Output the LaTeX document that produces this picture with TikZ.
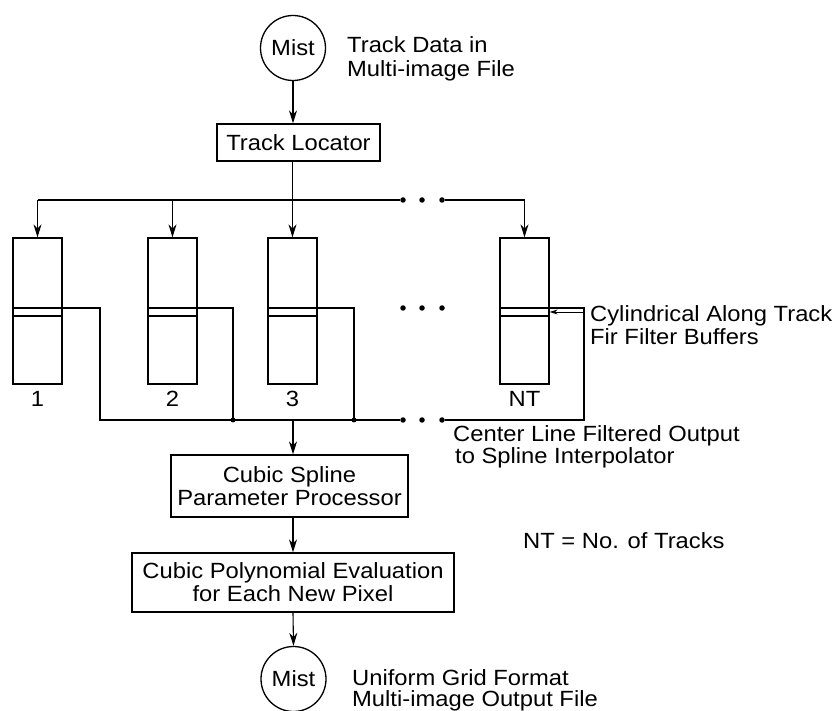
\documentclass[tikz,border=0pt]{standalone}
\usepackage{fontspec}
\setmainfont{Liberation Sans}[FakeStretch=1.08]
\usetikzlibrary{arrows.meta}
\begin{document}
\begin{tikzpicture}[x=1pt,y=-1pt,
  every node/.style={font=\fontsize{22}{23}\selectfont},
  box/.style={draw, line width=1.3pt, rectangle, inner sep=0pt, align=center},
  buf/.style={draw, line width=1.3pt, minimum width=49pt, minimum height=146pt, inner sep=0pt},
  mistc/.style={draw, circle, line width=1.3pt, minimum size=65pt, inner sep=0pt},
  lbl/.style={anchor=base west, inner sep=0pt},
  num/.style={anchor=base, inner sep=0pt},
  arr/.style={line width=1.1pt, -{Stealth[length=13pt,width=8pt]}},
  ptr/.style={line width=0.9pt, -{Stealth[length=8pt,width=5pt]}},
  ln/.style={line width=1.1pt},
  dot/.style={circle, fill, inner sep=0pt, minimum size=5.5pt},
  jn/.style={circle, fill, inner sep=0pt, minimum size=5pt}]
\useasboundingbox (0,0) rectangle (836,711);

% top input
\node[mistc] (m1) at (293,48) {Mist};
\node[lbl] (t1a) at (347,53) {Track Data in};
\node[lbl] (t1b) at (347,77) {Multi-image File};
\node[box, minimum width=163pt, minimum height=37pt] (loc) at (298.5,142.5) {Track Locator};
\draw[arr] (m1.south) -- (m1.south |- loc.north);

% buffers
\node[buf] (b1) at (37.5,311) {};
\node[buf] (b2) at (172.5,311) {};
\node[buf] (b3) at (292.5,311) {};
\node[buf] (bn) at (524.5,311) {};
\coordinate (yA) at (0,308);
\coordinate (yB) at (0,316);
\foreach \b in {b1,b2,b3,bn}{
  \draw[ln] (\b.west |- yA) -- (\b.east |- yA);
  \draw[ln] (\b.west |- yB) -- (\b.east |- yB);
}
\node[num] (l1) at (37.5,407) {1};
\node[num] (l2) at (172.5,407) {2};
\node[num] (l3) at (292.5,407) {3};
\node[num] (ln) at (524.5,407) {NT};

% distribution line
\coordinate (br) at (293,200);
\node[dot] (da1) at (403,200) {};
\node[dot] (da2) at (422,200) {};
\node[dot] (da3) at (442,200) {};
\draw[ln] (br -| b1) -- (da1);
\draw[ln] (da3) -- (br -| bn);
\draw[arr] (loc.south -| b3) -- (b3.north);
\draw[arr] (br -| b1) -- (b1.north);
\draw[arr] (br -| b2) -- (b2.north);
\draw[arr] (br -| bn) -- (bn.north);

% middle dots
\node[dot] (db1) at (403,308) {};
\node[dot] (db2) at (422,308) {};
\node[dot] (db3) at (442,308) {};

% collection bus
\coordinate (bus) at (293,420);
\coordinate (c1) at (100,420);
\coordinate (c2) at (233,420);
\coordinate (c3) at (354,420);
\coordinate (cn) at (584,420);
\node[dot] (dc1) at (403,420) {};
\node[dot] (dc2) at (422,420) {};
\node[dot] (dc3) at (442,420) {};
\draw[ln] (b1.east |- yA) -| (c1) -- (dc1);
\draw[ln] (b2.east |- yA) -| (c2);
\draw[ln] (b3.east |- yA) -| (c3);
\draw[ln] (bn.east |- yA) -| (cn) -- (dc3);
\node[jn] (j2) at (c2) {};
\node[jn] (j3) at (c3) {};

% label pointer
\coordinate (pa) at (583,312);
\draw[ptr] (pa) -- (bn.east |- pa);
\node[lbl] (t2a) at (590,322) {Cylindrical Along Track};
\node[lbl] (t2b) at (590,345) {Fir Filter Buffers};

\node[lbl] (t3a) at (453,442) {Center Line Filtered Output};
\node[lbl] (t3b) at (455,464) {to Spline Interpolator};
\node[lbl] (t4) at (523,548) {NT = No. of Tracks};

% processing chain
\node[box, minimum width=237pt, minimum height=62pt] (sp) at (289.5,486) {Cubic Spline\\Parameter Processor};
\node[box, minimum width=322pt, minimum height=59pt] (poly) at (293,582.5) {Cubic Polynomial Evaluation\\for Each New Pixel};
\draw[arr] (bus) -- (bus |- sp.north);
\draw[arr] (sp.south -| poly) -- (poly.north);
\node[mistc] (m2) at (293.5,679) {Mist};
\draw[arr] (poly.south) -- (m2.north);
\node[lbl] (t5a) at (352,685) {Uniform Grid Format};
\node[lbl] (t5b) at (352,706) {Multi-image Output File};
\end{tikzpicture}
\end{document}
